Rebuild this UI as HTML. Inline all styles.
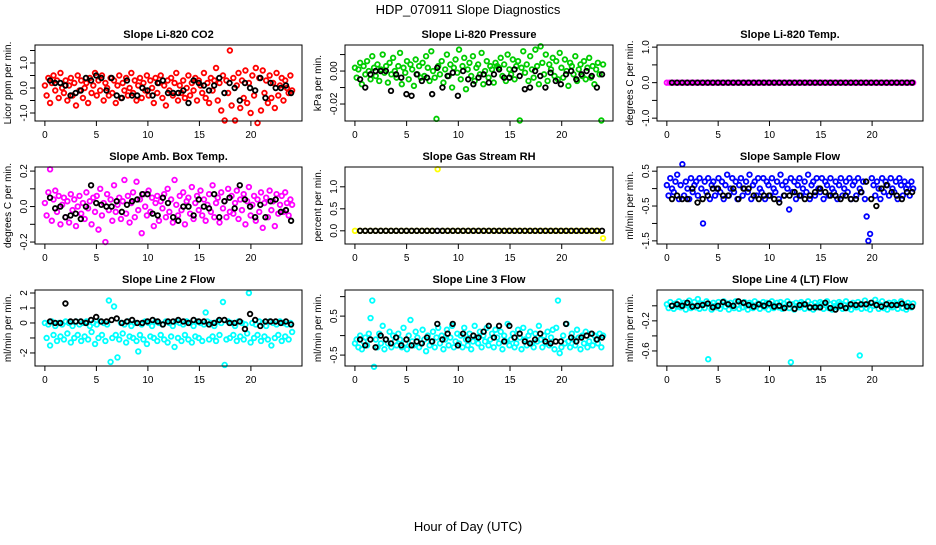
<!DOCTYPE html>
<html><head><meta charset="utf-8"><style>
html,body{margin:0;padding:0;background:#fff;}
svg text{font-family:"Liberation Sans",Arial,sans-serif;}
</style></head><body>
<svg id="chart" width="936" height="540" xmlns="http://www.w3.org/2000/svg">
<rect width="936" height="540" fill="#fff"/>
<text x="468" y="14" text-anchor="middle" font-size="13">HDP_070911  Slope Diagnostics</text>
<text x="468" y="531" text-anchor="middle" font-size="13">Hour of Day (UTC)</text>
</svg>
<script>
const xTicks=[0,5,10,15,20];
const co2Red=[0.1,-0.3,0.4,-0.6,0.2,0.5,-0.1,0.3,-0.4,0.6,0.0,-0.2,0.3,-0.5,0.1,0.4,-0.3,0.2,-0.7,0.5,-0.1,0.3,-0.4,0.0,0.2,-0.6,0.4,-0.2,0.1,0.6,-0.3,0.3,-0.1,0.5,-0.5,0.2,0.0,-0.3,0.4,-0.2,0.3,-0.6,0.1,0.5,-0.4,0.2,-0.1,0.4,-0.3,0.0,0.6,-0.2,0.3,-0.5,0.1,0.4,-0.4,0.2,-0.1,0.5,-0.3,0.3,0.0,-0.6,0.4,-0.2,0.2,0.5,-0.4,0.1,-0.7,0.3,-0.1,0.4,-0.3,0.2,0.6,-0.5,0.1,-0.2,0.3,-0.4,0.0,0.5,-0.3,0.2,-0.1,0.4,-0.5,0.3,0.1,-0.2,0.6,-0.4,0.2,-0.6,0.4,-0.1,0.3,0.8,-0.5,0.2,-0.9,0.5,-1.3,0.3,-0.2,1.5,-0.7,0.4,-1.3,0.1,0.6,-0.8,0.3,-0.4,0.7,-0.6,0.2,-1.0,0.5,-0.3,0.8,-1.4,0.4,-0.9,0.7,-0.2,0.3,-0.6,0.5,-0.4,0.2,-0.8,0.6,-0.3,0.1,0.4,-0.5,0.3,0.0,-0.2,0.5,-0.1];
const co2Black=[0.3,0.2,0.2,0.1,-0.3,-0.2,-0.1,0.4,0.3,0.5,0.4,-0.1,0.4,-0.3,-0.4,0.3,-0.3,-0.3,0.0,-0.1,-0.3,0.2,0.3,-0.2,-0.2,-0.2,-0.1,-0.6,0.3,0.2,0.1,-0.1,0.1,0.4,-0.2,0.2,0.0,-0.5,0.2,0.0,-0.1,0.4,-0.4,0.2,0.0,0.0,0.1,-0.2];
const presGreen=[0.002,-0.004,0.001,0.005,-0.008,0.003,-0.002,0.006,0.000,-0.005,0.009,0.002,-0.003,0.004,-0.006,0.001,0.010,-0.001,0.003,-0.007,0.005,-0.002,0.008,0.000,-0.004,0.003,0.011,-0.008,0.002,-0.001,0.006,-0.005,0.004,0.001,-0.009,0.007,-0.002,0.003,-0.004,0.005,-0.003,0.009,0.002,-0.006,0.012,0.000,-0.004,-0.029,0.003,-0.002,0.006,-0.007,0.001,0.010,-0.003,0.004,-0.010,0.002,0.007,-0.001,0.013,-0.005,0.003,0.008,-0.011,0.001,0.005,-0.003,0.009,-0.006,0.002,0.004,-0.002,0.011,-0.008,0.000,0.006,-0.004,0.003,0.001,-0.007,0.005,0.003,0.002,0.008,-0.003,0.004,-0.006,0.010,0.001,-0.002,0.007,-0.005,0.003,0.006,-0.030,0.002,0.012,-0.001,0.004,-0.006,0.009,0.001,-0.004,0.013,0.003,-0.008,0.015,0.005,-0.002,0.010,-0.006,0.004,0.001,0.008,-0.003,0.006,-0.005,0.011,0.002,-0.004,0.007,0.000,-0.009,0.005,0.003,-0.002,0.009,-0.006,0.001,0.004,-0.003,0.006,-0.005,0.002,0.008,-0.004,0.003,-0.008,0.001,0.005,-0.002,-0.030,0.004];
const presBlack=[-0.005,-0.010,-0.002,0.000,0.000,0.000,-0.012,-0.002,-0.004,-0.014,-0.015,-0.002,-0.006,-0.004,-0.014,0.002,-0.010,-0.003,-0.001,-0.015,0.000,-0.005,-0.008,-0.004,-0.002,-0.007,-0.002,0.001,-0.004,-0.004,0.001,-0.003,-0.011,-0.010,0.000,-0.003,-0.010,-0.001,-0.006,-0.008,-0.002,0.000,-0.005,-0.002,0.000,-0.003,-0.010,-0.002];
const tempMagenta=[0,0,0,0,0,0,0,0,0,0,0,0,0,0,0,0,0,0,0,0,0,0,0,0,0,0,0,0,0,0,0,0,0,0,0,0,0,0,0,0,0,0,0,0,0,0,0,0,0,0,0,0,0,0,0,0,0,0,0,0,0,0,0,0,0,0,0,0,0,0,0,0,0,0,0,0,0,0,0,0,0,0,0,0,0,0,0,0,0,0,0,0,0,0,0,0];
const tempBlack=[0,0,0,0,0,0,0,0,0,0,0,0,0,0,0,0,0,0,0,0,0,0,0,0,0,0,0,0,0,0,0,0,0,0,0,0,0,0,0,0,0,0,0,0,0,0,0,0];
const ambMagenta=[0.02,-0.05,0.08,0.21,-0.08,0.04,0.09,-0.03,0.06,-0.10,0.01,0.05,-0.06,0.03,-0.09,0.07,-0.02,0.04,-0.11,0.00,0.06,-0.04,0.02,-0.07,0.08,-0.01,0.03,-0.10,0.05,-0.03,0.06,-0.13,0.10,-0.05,0.02,-0.20,0.07,-0.02,0.04,-0.08,0.12,-0.03,0.01,0.05,-0.07,0.03,0.15,-0.04,0.06,-0.09,0.02,0.08,-0.06,0.14,-0.02,0.04,-0.15,0.07,0.00,-0.05,0.09,-0.03,0.05,-0.11,0.02,0.06,-0.08,0.03,-0.01,0.07,-0.06,0.10,-0.03,0.04,-0.09,0.15,0.01,-0.05,0.06,-0.02,0.08,-0.10,0.03,0.05,-0.04,0.11,-0.07,0.02,0.06,-0.02,0.09,-0.05,0.04,-0.08,0.01,0.07,-0.03,0.12,-0.06,0.02,0.05,-0.09,0.08,-0.01,0.03,-0.06,0.10,-0.03,0.06,-0.04,0.02,0.09,-0.07,0.04,-0.02,0.07,-0.10,0.03,0.11,-0.05,0.01,0.06,-0.08,0.04,-0.03,0.08,-0.12,0.02,0.05,-0.06,0.09,-0.02,0.03,-0.11,0.07,-0.04,0.01,0.06,-0.03,0.08,0.02,-0.05,0.04,0.01];
const ambBlack=[0.05,-0.01,0.00,-0.06,-0.05,-0.04,-0.07,0.00,0.12,0.02,0.01,0.00,0.00,0.03,-0.03,0.01,0.03,0.04,0.07,0.07,-0.04,-0.05,0.05,0.02,-0.06,-0.08,0.00,0.00,-0.05,0.04,0.00,-0.01,0.07,-0.06,0.03,0.05,-0.01,0.12,0.04,0.00,-0.06,0.01,-0.06,0.03,0.04,-0.03,-0.02,-0.08];
const rhYellow=[0,0,0,0,0,0,0,0,0,0,0,0,0,0,0,0,1.4,0,0,0,0,0,0,0,0,0,0,0,0,0,0,0,0,0,0,0,0,0,0,0,0,0,0,0,0,0,0,0,-0.17];
const rhBlack=[0,0,0,0,0,0,0,0,0,0,0,0,0,0,0,0,0,0,0,0,0,0,0,0,0,0,0,0,0,0,0,0,0,0,0,0,0,0,0,0,0,0,0,0,0,0,0,0];
const sampleBlue=[0.1,-0.2,0.3,0.0,-0.1,0.2,0.4,-0.3,0.1,0.7,-0.2,0.2,0.0,-0.3,0.3,-0.1,0.1,0.2,-0.2,0.3,0.0,-1.0,0.2,-0.1,0.3,-0.3,0.1,0.2,-0.2,0.0,0.3,-0.1,0.2,-0.3,0.1,0.4,-0.2,0.0,0.3,-0.1,0.2,-0.3,0.1,0.3,-0.2,0.0,0.2,-0.1,0.4,-0.3,0.1,0.2,-0.2,0.3,0.0,-0.1,0.3,-0.3,0.2,0.1,-0.2,0.3,0.0,-0.1,0.2,-0.3,0.4,0.1,-0.2,0.2,0.0,-0.6,0.3,-0.1,0.2,-0.3,0.1,0.3,-0.2,0.0,0.2,-0.1,0.4,-0.3,0.1,0.2,-0.2,0.3,0.0,-0.1,0.3,-0.3,0.2,0.1,-0.2,0.3,0.0,-0.1,0.2,-0.3,0.1,0.3,-0.2,0.0,0.2,-0.1,0.3,-0.3,0.1,0.2,-0.2,0.3,0.0,-0.1,0.2,-0.3,-0.8,-1.5,-1.3,0.3,0.1,-0.2,0.2,0.0,-0.3,0.3,-0.1,0.2,0.1,-0.2,0.3,0.0,-0.1,0.2,-0.3,0.3,0.1,-0.2,0.2,0.0,0.1,-0.2,0.2,0.0];
const sampleBlack=[-0.3,-0.2,-0.3,-0.3,0.0,-0.4,-0.3,-0.2,0.0,0.0,-0.2,-0.2,0.0,-0.3,0.0,0.0,-0.2,-0.3,-0.2,-0.2,-0.3,-0.4,-0.2,-0.2,-0.1,-0.2,-0.3,-0.2,-0.1,0.0,-0.1,-0.2,-0.2,-0.3,-0.2,-0.3,-0.3,-0.1,0.2,-0.3,-0.5,0.0,0.1,-0.1,-0.2,-0.3,-0.1,-0.1];
const line2Cyan=[0.0,-1.0,-0.1,-1.5,0.1,-0.8,-0.2,-1.2,0.0,-0.9,-0.1,-1.1,0.1,-0.7,0.0,-1.3,-0.2,-1.0,0.1,-0.8,-0.1,-1.2,0.0,-0.9,0.1,-1.1,-0.2,-0.6,0.0,-1.4,-0.1,-1.0,0.1,-0.8,0.0,-1.2,-0.1,1.5,-2.6,-1.0,1.1,-0.8,-2.3,-1.1,0.0,-0.7,-0.1,-1.3,0.1,-0.9,-0.2,-1.0,0.0,-1.2,-1.9,-0.8,-0.1,-1.1,0.1,-1.4,0.0,-0.9,-0.2,-1.0,0.1,-1.2,0.0,-0.8,-0.1,-1.1,0.1,-1.3,0.0,-0.9,-0.2,-1.6,0.1,-1.0,0.0,-1.2,-0.1,-0.8,0.1,-1.1,0.0,-1.3,-0.2,-0.9,0.1,-1.0,0.0,-1.2,-0.1,0.7,0.1,-1.1,0.0,-0.9,-0.2,-1.2,0.1,-0.8,0.0,1.4,-2.8,-1.1,0.1,-1.0,0.0,-0.8,-0.2,-1.2,0.1,-0.9,0.0,-1.1,-0.1,-0.7,2.0,-1.3,0.0,-1.0,-0.1,-0.8,0.1,-1.2,0.0,-0.9,-0.2,-1.1,0.1,-1.5,0.0,-1.0,-0.1,-0.8,0.1,-1.2,0.0,-0.9,-0.1,-1.1,0.0,-0.6];
const line2Black=[0.1,0.0,0.0,1.3,0.1,0.1,0.1,0.0,0.2,0.4,0.1,0.1,0.2,0.3,0.0,0.1,0.2,0.0,0.0,0.1,0.2,0.1,-0.1,0.1,0.1,0.2,0.1,0.0,0.2,0.1,0.1,-0.1,0.0,0.2,0.2,0.0,0.0,0.1,-0.4,0.6,0.2,-0.2,0.1,0.1,0.1,0.0,0.1,-0.1];
const line3Cyan=[-0.2,-0.1,-0.3,0.0,-0.35,-0.15,-0.05,-0.25,0.05,0.45,0.9,-0.8,-0.1,-0.3,0.05,-0.2,0.25,-0.35,-0.1,-0.2,0.1,-0.3,0.0,-0.15,-0.25,0.05,-0.1,-0.3,0.2,-0.2,-0.35,0.0,0.4,-0.15,-0.25,0.1,-0.05,-0.3,-0.2,0.15,-0.1,-0.4,0.0,-0.25,-0.15,0.1,-0.3,-0.05,0.2,-0.2,0.0,-0.35,-0.1,0.15,-0.25,-0.05,0.25,-0.3,-0.15,0.05,-0.2,0.0,-0.3,0.2,-0.1,-0.25,0.05,-0.35,-0.15,0.25,-0.05,-0.2,0.1,-0.3,0.0,-0.15,0.2,-0.25,-0.1,0.05,-0.3,0.15,-0.05,-0.2,0.1,-0.35,0.0,-0.15,0.3,-0.25,-0.1,0.05,-0.3,-0.2,0.15,-0.05,-0.35,0.2,-0.1,-0.25,0.0,0.1,-0.2,-0.3,0.05,-0.15,0.25,-0.1,-0.3,0.0,-0.2,0.1,-0.25,-0.05,0.15,-0.35,0.2,0.9,-0.45,-0.3,0.0,-0.2,0.3,-0.15,-0.3,0.05,-0.1,-0.25,0.15,-0.05,-0.35,0.0,-0.2,0.1,-0.3,-0.15,0.05,-0.25,0.0,-0.1,-0.2,0.05,-0.3,0.0];
const line3Black=[-0.1,-0.25,-0.1,-0.3,0.0,-0.1,-0.2,-0.05,-0.25,-0.1,-0.25,-0.15,-0.2,-0.05,-0.15,0.3,-0.1,0.05,0.3,-0.25,0.05,-0.1,0.0,-0.05,0.1,0.25,-0.05,0.25,-0.15,0.25,-0.05,0.05,-0.15,-0.2,-0.1,0.05,-0.15,-0.2,-0.15,-0.15,0.3,-0.05,-0.15,-0.05,0.0,0.05,-0.1,-0.05];
const line4Cyan=[0.02,-0.03,0.05,0.00,-0.04,0.03,-0.01,0.06,-0.02,0.01,0.04,-0.05,0.02,0.07,-0.03,0.00,0.05,-0.02,0.09,-0.04,0.03,0.01,-0.03,0.06,-0.71,0.02,-0.05,0.04,0.00,-0.02,0.05,-0.04,0.02,0.06,-0.01,0.03,-0.05,0.04,0.00,-0.03,0.06,0.01,-0.04,0.03,-0.02,0.05,0.00,-0.05,0.04,0.02,-0.03,0.06,-0.01,0.03,-0.04,0.01,0.05,-0.02,0.04,-0.05,0.02,0.06,-0.03,0.00,0.04,-0.02,0.05,-0.04,0.03,-0.01,0.06,-0.03,-0.75,0.02,-0.05,0.04,0.00,-0.02,0.05,0.03,-0.04,0.01,0.06,-0.03,0.02,-0.05,0.04,0.00,-0.02,0.05,0.03,-0.04,0.01,0.06,-0.03,0.02,-0.05,0.04,0.00,-0.02,0.05,0.03,-0.04,0.01,0.06,-0.03,0.02,-0.05,0.04,0.00,-0.02,0.05,-0.66,-0.04,0.01,0.07,-0.03,0.02,-0.05,0.04,0.00,0.08,0.03,-0.04,0.01,0.06,-0.03,0.02,-0.05,0.04,0.00,-0.02,0.05,0.03,-0.04,0.01,0.06,-0.03,0.02,-0.05,0.04,0.00,-0.02,0.03];
const line4Black=[0.00,0.02,0.00,0.04,-0.01,0.00,0.01,0.03,-0.02,0.00,0.05,0.02,0.00,0.06,0.04,0.01,-0.01,0.02,0.00,0.03,-0.01,0.00,-0.03,0.02,-0.04,0.01,0.02,-0.02,-0.02,-0.02,0.04,-0.03,-0.05,0.00,-0.03,0.02,0.01,0.02,0.02,0.04,0.01,-0.01,0.02,0.01,0.01,0.03,-0.01,-0.01];
const panelTitles=["Slope Li-820 CO2","Slope Li-820 Pressure","Slope Li-820 Temp.","Slope Amb. Box Temp.","Slope Gas Stream RH","Slope Sample Flow","Slope Line 2 Flow","Slope Line 3 Flow","Slope Line 4 (LT) Flow"];
const yTitles=["Licor ppm per min.","kPa per min.","degrees C per min.","degrees C per min.","percent per min.","ml/min per min.","ml/min per min.","ml/min per min.","ml/min per min."];
const yTickVals=[[-1,-0.5,0,0.5,1,1.5],[-0.02,-0.01,0,0.01],[-1,-0.5,0,0.5,1],[-0.2,-0.1,0,0.1,0.2],[0,0.5,1],[-1.5,-1,-0.5,0,0.5],[-2,-1,0,1,2],[-0.5,0,0.5,1],[-0.6,-0.4,-0.2,0]];
const yTickLabels=[["-1.0","","0.0","","1.0",""],["-0.02","","0.00",""],["-1.0","","0.0","","1.0"],["-0.2","","0.0","","0.2"],["0.0","0.5","1.0"],["-1.5","","-0.5","","0.5"],["-2","","0","1","2"],["-0.5","","0.5",""],["-0.6","","-0.2",""]];
const yDomains=[[-1.32,1.72],[-0.0303,0.0158],[-1.08,1.06],[-0.211,0.223],[-0.3,1.45],[-1.59,0.62],[-2.87,2.2],[-0.78,1.17],[-0.8,0.21]];
const colorSeries=[co2Red,presGreen,tempMagenta,ambMagenta,rhYellow,sampleBlue,line2Cyan,line3Cyan,line4Cyan];
const blackSeries=[co2Black,presBlack,tempBlack,ambBlack,rhBlack,sampleBlack,line2Black,line3Black,line4Black];
const colors=["#ff0000","#00cd00","#ff00ff","#ff00ff","#ffff00","#0000ff","#00ffff","#00ffff","#00ffff"];
const colL=[35,345,657],colR=[302,613,923],rowT=[45,167,290],rowB=[121,244,366];
const NS="http://www.w3.org/2000/svg";
const svg=document.getElementById('chart');
function mk(tag,attrs,parent){const e=document.createElementNS(NS,tag);for(const k in attrs)e.setAttribute(k,attrs[k]);parent.appendChild(e);return e;}
for(let p=0;p<9;p++){
  const c=p%3,r=Math.floor(p/3);
  const L=colL[c],R=colR[c],T=rowT[r],B=rowB[r];
  const g=mk('g',{},svg);
  
  
  const xs=h=>L+(h+0.96)/25.92*(R-L);
  const [y0,y1]=yDomains[p];
  const ys=v=>B-(v-y0)/(y1-y0)*(B-T);
  const t=mk('text',{x:(L+R)/2,y:T-7,'text-anchor':'middle','font-size':'11','font-weight':'bold'},g);
  t.textContent=panelTitles[p];
  
  
  const yt=mk('text',{x:0,y:0,'text-anchor':'middle','font-size':'10',transform:`translate(${L-24},${(T+B)/2}) rotate(-90)`},g);
  yt.textContent=yTitles[p];
  
  
  xTicks.forEach(v=>{
    const x=xs(v);
    mk('line',{x1:x,x2:x,y1:B,y2:B+5,stroke:'#000','stroke-width':1},g);
    const tl=mk('text',{x:x,y:B+17,'text-anchor':'middle','font-size':'10'},g);
    tl.textContent=String(v);
    
    
  });
  yTickVals[p].forEach((v,i)=>{
    const y=ys(v);
    mk('line',{x1:L-5,x2:L,y1:y,y2:y,stroke:'#000','stroke-width':1},g);
    if(yTickLabels[p][i]){
      const tl=mk('text',{x:0,y:0,'text-anchor':'middle','font-size':'10',transform:`translate(${L-8},${y}) rotate(-90)`},g);
      tl.textContent=yTickLabels[p][i];
      
      
    }
  });
  const cs=colorSeries[p];
  cs.forEach((v,i)=>{
    const h=i*24/(cs.length-1);
    const pt=mk('circle',{cx:xs(h),cy:ys(v),r:2.3,fill:'none',stroke:colors[p],'stroke-width':1.8},g);
    
    
  });
  const bs=blackSeries[p];
  bs.forEach((v,i)=>{
    const h=0.5+i*23.4/(bs.length-1);
    const pt=mk('circle',{cx:xs(h),cy:ys(v),r:2.3,fill:'none',stroke:'#000','stroke-width':1.8},g);
    
    
  });
  const box=mk('rect',{x:L,y:T,width:R-L,height:B-T,fill:'none',stroke:'#000','stroke-width':1},g);
  
  
}
</script>
</body></html>
